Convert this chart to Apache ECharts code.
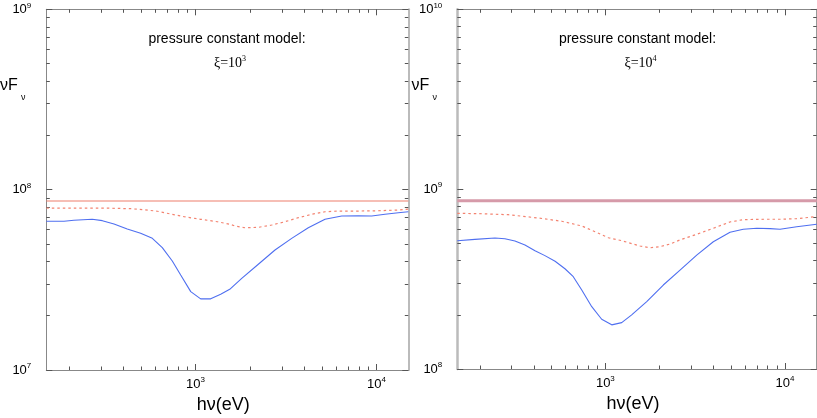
<!DOCTYPE html>
<html><head><meta charset="utf-8">
<script src="https://cdn.jsdelivr.net/npm/echarts@6/dist/echarts.min.js"></script>
<style>html,body{margin:0;padding:0;background:#fff}#c{width:817px;height:418px}</style>
</head><body><div id="c"></div>
<script>
// ---- data ----
const xMin = 150, xMax = 15000;
const xMajor = [1000, 10000];
const xMinor = [200, 300, 400, 500, 600, 700, 800, 900, 2000, 3000, 4000, 5000, 6000, 7000, 8000, 9000];
const yMajorL = [1e7, 1e8, 1e9];
const yMinorL = [2e7, 3e7, 4e7, 5e7, 6e7, 7e7, 8e7, 9e7, 2e8, 3e8, 4e8, 5e8, 6e8, 7e8, 8e8, 9e8];
const yMajorR = [1e8, 1e9, 1e10];
const yMinorR = [2e8, 3e8, 4e8, 5e8, 6e8, 7e8, 8e8, 9e8, 2e9, 3e9, 4e9, 5e9, 6e9, 7e9, 8e9, 9e9];

const flatE = [150, 15000];
const leftFlatF = [8.65e7, 8.65e7];
const rightFlatF = [8.63e8, 8.63e8];

const leftBlueE = [150, 188, 213, 269, 306, 355, 420, 498, 578, 656, 745, 829, 942, 1069, 1214, 1379, 1547, 1802, 2226, 2752, 3403, 4203, 5199, 6429, 7940, 9417, 11150, 13210, 15000];
const leftBlueF = [6.68e7, 6.68e7, 6.76e7, 6.85e7, 6.73e7, 6.45e7, 6.05e7, 5.73e7, 5.37e7, 4.77e7, 4.02e7, 3.36e7, 2.72e7, 2.48e7, 2.48e7, 2.63e7, 2.80e7, 3.22e7, 3.86e7, 4.63e7, 5.37e7, 6.15e7, 6.85e7, 7.14e7, 7.17e7, 7.14e7, 7.30e7, 7.45e7, 7.54e7];

const leftDotE = [150, 223, 340, 439, 520, 616, 730, 865, 1069, 1321, 1547, 1654, 1878, 2226, 2639, 3125, 3702, 4389, 5199, 6157, 7940, 10240, 13210, 15000];
const leftDotF = [7.91e7, 7.89e7, 7.89e7, 7.84e7, 7.74e7, 7.59e7, 7.33e7, 7.08e7, 6.85e7, 6.64e7, 6.43e7, 6.29e7, 6.15e7, 6.18e7, 6.37e7, 6.64e7, 6.99e7, 7.30e7, 7.54e7, 7.61e7, 7.61e7, 7.64e7, 7.71e7, 7.81e7];

const rightBlueE = [150, 188, 243, 276, 314, 357, 406, 461, 525, 596, 663, 739, 840, 954, 1085, 1233, 1401, 1699, 2101, 2603, 3224, 3988, 4940, 5855, 6955, 8247, 9374, 11610, 15000];
const rightBlueF = [5.17e8, 5.26e8, 5.35e8, 5.30e8, 5.15e8, 4.89e8, 4.55e8, 4.27e8, 3.97e8, 3.61e8, 3.26e8, 2.75e8, 2.22e8, 1.89e8, 1.76e8, 1.81e8, 2.00e8, 2.37e8, 2.93e8, 3.55e8, 4.30e8, 5.10e8, 5.76e8, 5.98e8, 6.06e8, 6.03e8, 5.98e8, 6.18e8, 6.38e8];

const rightDotE = [150, 205, 288, 424, 572, 739, 876, 1039, 1233, 1559, 1772, 2014, 2289, 2603, 3224, 3988, 4940, 5855, 7565, 9374, 11610, 15000];
const rightDotF = [7.34e8, 7.30e8, 7.21e8, 6.91e8, 6.63e8, 6.24e8, 5.80e8, 5.37e8, 5.17e8, 4.83e8, 4.72e8, 4.79e8, 4.95e8, 5.22e8, 5.61e8, 6.06e8, 6.57e8, 6.77e8, 6.80e8, 6.80e8, 6.85e8, 7.04e8];

const titleText = 'pressure constant model:';
const xiExp = [3, 4];
const xName = 'hν(eV)';

// ---- helpers ----
const zip = (a, b) => a.map((v, i) => [v, b[i]]);
const labFont = "'Liberation Sans Narrow', 'Liberation Sans', Arial, sans-serif";
const powRich = {
  b: { fontSize: 13, fontFamily: labFont, color: '#000', lineHeight: 16 },
  s: { fontSize: 8, fontFamily: labFont, color: '#000', lineHeight: 16, verticalAlign: 'top' }
};
const powFmt = v => '{b|10}{s|' + Math.round(Math.log10(v)) + '}';
const tickColor = '#555';

function xAxesFor(g) {
  const base = { type: 'log', logBase: 10, min: xMin, max: xMax, gridIndex: g, splitLine: { show: false } };
  return [
    Object.assign({}, base, {
      position: 'bottom',
      axisLine: { show: true, onZero: false, lineStyle: { color: '#888', width: 1 } },
      axisTick: { show: true, inside: true, length: 6, customValues: xMajor, lineStyle: { color: tickColor } },
      axisLabel: { show: true, customValues: xMajor, formatter: powFmt, rich: powRich, margin: 6 },
      name: xName, nameLocation: 'middle', nameGap: 26,
      nameTextStyle: { fontSize: 18, fontFamily: "'Liberation Sans', Arial, sans-serif", color: '#000', padding: [0, 8, 0, 0] }
    }),
    Object.assign({}, base, {
      position: 'bottom',
      axisLine: { show: false, onZero: false },
      axisTick: { show: true, inside: true, length: 3.5, customValues: xMinor, lineStyle: { color: tickColor } },
      axisLabel: { show: false }
    }),
    Object.assign({}, base, {
      position: 'top',
      axisLine: { show: true, onZero: false, lineStyle: { color: '#888', width: 1 } },
      axisTick: { show: true, inside: true, length: 6, customValues: xMajor, lineStyle: { color: tickColor } },
      axisLabel: { show: false }
    }),
    Object.assign({}, base, {
      position: 'top',
      axisLine: { show: false, onZero: false },
      axisTick: { show: true, inside: true, length: 3.5, customValues: xMinor, lineStyle: { color: tickColor } },
      axisLabel: { show: false }
    })
  ];
}

function yAxesFor(g, lo, hi, major, minor, leftLine, rightLine) {
  const base = { type: 'log', logBase: 10, min: lo, max: hi, gridIndex: g, splitLine: { show: false } };
  return [
    Object.assign({}, base, {
      position: 'left',
      axisLine: { show: true, onZero: false, lineStyle: leftLine },
      axisTick: { show: true, inside: true, length: 6, customValues: major, lineStyle: { color: tickColor } },
      axisLabel: { show: true, customValues: major, formatter: powFmt, rich: powRich, margin: 15 }
    }),
    Object.assign({}, base, {
      position: 'left',
      axisLine: { show: false, onZero: false },
      axisTick: { show: true, inside: true, length: 3.5, customValues: minor, lineStyle: { color: tickColor } },
      axisLabel: { show: false }
    }),
    Object.assign({}, base, {
      position: 'right',
      axisLine: { show: true, onZero: false, lineStyle: rightLine },
      axisTick: { show: true, inside: true, length: 6, customValues: major, lineStyle: { color: tickColor } },
      axisLabel: { show: false }
    }),
    Object.assign({}, base, {
      position: 'right',
      axisLine: { show: false, onZero: false },
      axisTick: { show: true, inside: true, length: 3.5, customValues: minor, lineStyle: { color: tickColor } },
      axisLabel: { show: false }
    })
  ];
}

const blue = '#4f6ff0', salmon = '#f3826f';
function seriesFor(g, flatF, flatStyle, dotE, dotF, blueE, blueF) {
  const xi = g * 4, yi = g * 4;
  const common = { type: 'line', xAxisIndex: xi, yAxisIndex: yi, showSymbol: false, symbol: 'none', silent: true, animation: false };
  return [
    Object.assign({}, common, { data: zip(flatE, flatF), lineStyle: flatStyle, z: 2 }),
    Object.assign({}, common, { data: zip(dotE, dotF), lineStyle: { color: salmon, width: 1.2, type: [2.5, 3] }, z: 3 }),
    Object.assign({}, common, { data: zip(blueE, blueF), lineStyle: { color: blue, width: 1.1 }, z: 4 })
  ];
}

const serif = "'Liberation Serif', 'Times New Roman', serif";
function panelText(cx, exp, nuX) {
  return [
    { type: 'text', x: cx, y: 39, style: { text: titleText, font: "14px 'Liberation Sans', Arial, sans-serif", fill: '#000', align: 'center', verticalAlign: 'middle' } },
    { type: 'text', x: cx + 3, y: 63, style: {
      text: '{r|ξ=10}{s|' + exp + '}', align: 'center', verticalAlign: 'middle',
      rich: {
        r: { fontSize: 14, fontFamily: serif, fill: '#000', lineHeight: 16 },
        s: { fontSize: 8, fontFamily: serif, fill: '#000', lineHeight: 16, verticalAlign: 'top' }
      } } },
    { type: 'text', x: nuX, y: 86, style: { text: 'νF', font: "16px 'Liberation Sans', Arial, sans-serif", fill: '#000', align: 'left', verticalAlign: 'middle' } },
    { type: 'text', x: nuX + 21, y: 98, style: { text: 'ν', font: "9px 'Liberation Sans', Arial, sans-serif", fill: '#000', align: 'left', verticalAlign: 'middle' } }
  ];
}

const chart = echarts.init(document.getElementById('c'), null, { renderer: 'canvas' });
chart.setOption({
  animation: false,
  backgroundColor: '#fff',
  grid: [
    { left: 46.3, top: 9.3, width: 362, height: 360.7, containLabel: false, outerBoundsMode: 'none' },
    { left: 457.3, top: 9.3, width: 359.4, height: 359.7, containLabel: false, outerBoundsMode: 'none' }
  ],
  xAxis: [].concat(xAxesFor(0), xAxesFor(1)),
  yAxis: [].concat(
    yAxesFor(0, 1e7, 1e9, yMajorL, yMinorL, { color: '#888', width: 1 }, { color: '#bbb', width: 2 }),
    yAxesFor(1, 1e8, 1e10, yMajorR, yMinorR, { color: '#bbb', width: 2.5 }, { color: '#999', width: 1 })
  ),
  series: [].concat(
    seriesFor(0, leftFlatF, { color: '#ee7f6c', width: 1.2 }, leftDotE, leftDotF, leftBlueE, leftBlueF),
    seriesFor(1, rightFlatF, { color: '#d69aa9', width: 3 }, rightDotE, rightDotF, rightBlueE, rightBlueF)
  ),
  graphic: [].concat(panelText(227, xiExp[0], 0), panelText(637.5, xiExp[1], 411.5))
});
</script></body></html>
